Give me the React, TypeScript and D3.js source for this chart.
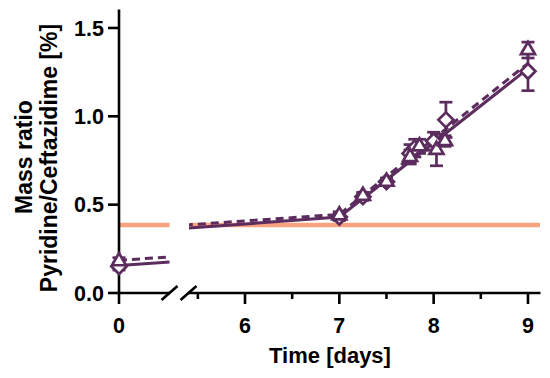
import React, { useEffect, useRef } from 'react';
import * as d3 from 'd3';

// triangles (dashed fit) and diamonds (solid fit)
const triTimes = [0, 7, 7.25, 7.5, 7.75, 7.85, 8.03, 8.12, 9];
const triValues = [0.18, 0.44, 0.55, 0.63, 0.77, 0.83, 0.81, 0.86, 1.375];
const triErrors = [0.02, 0.02, 0.02, 0.02, 0.04, 0.04, 0.09, 0.03, 0.045];

const diaTimes = [0, 7, 7.25, 7.5, 7.75, 7.8, 8.0, 8.13, 9];
const diaValues = [0.15, 0.43, 0.545, 0.63, 0.79, 0.82, 0.86, 0.98, 1.255];
const diaErrors = [0.02, 0.02, 0.02, 0.02, 0.05, 0.05, 0.05, 0.1, 0.11];

// segmental linear fits
const fitTimes = [0, 7, 9];
const solidFit = [0.155, 0.43, 1.27];
const dashedFit = [0.185, 0.445, 1.3];

const threshold = 0.385;

const yTicks = [0, 0.5, 1.0, 1.5];
const xTicksLeft = [0];
const xTicksRight = [6, 7, 8, 9];
const xMinorRight = [5.5, 6.5, 7.5, 8.5];

const purple = '#5b2c5d';
const orange = '#f8a27f';
const font = 'Liberation Sans, Arial, Helvetica, sans-serif';

const W = 550;
const H = 378;

export default function App() {
  const ref = useRef<SVGSVGElement>(null);

  useEffect(() => {
    if (!ref.current) return;
    const svg = d3.select(ref.current);
    svg.selectAll('*').remove();

    const y = d3.scaleLinear().domain([0, 1.6]).range([293, 10.3]);
    const xL = d3.scaleLinear().domain([0, 0.5]).range([119, 168]);
    const xR = d3.scaleLinear().domain([5.42, 9.12]).range([190.3, 539.3]);
    const segEndL = 169.5;
    const segStartR = 189;

    const defs = svg.append('defs');
    defs.append('clipPath').attr('id', 'clipL')
      .append('rect').attr('x', 0).attr('y', 0).attr('width', segEndL).attr('height', H);
    defs.append('clipPath').attr('id', 'clipR')
      .append('rect').attr('x', segStartR).attr('y', 0).attr('width', W - segStartR).attr('height', H);

    const segments = [
      { x: xL, clip: 'url(#clipL)', x0: 119, x1: segEndL, pick: (t: number) => t <= 0.5 },
      { x: xR, clip: 'url(#clipR)', x0: segStartR + 1, x1: 540, pick: (t: number) => t > 0.5 },
    ];

    // threshold line
    segments.forEach(s => {
      svg.append('line')
        .attr('x1', s.x0).attr('x2', s.x1)
        .attr('y1', y(threshold)).attr('y2', y(threshold))
        .attr('stroke', orange).attr('stroke-width', 4.5);
    });

    // axes
    const axis = svg.append('g').attr('stroke', '#000').attr('stroke-width', 2.6).attr('fill', 'none');
    axis.append('line').attr('x1', 119).attr('x2', 119).attr('y1', 9.5).attr('y2', 294.2);
    axis.append('line').attr('x1', 117.8).attr('x2', 170).attr('y1', 293).attr('y2', 293);
    axis.append('line').attr('x1', 188).attr('x2', 540.5).attr('y1', 293).attr('y2', 293);
    // break marks
    [169.5, 188.5].forEach(cx => {
      axis.append('line')
        .attr('x1', cx - 8).attr('y1', 300).attr('x2', cx + 8).attr('y2', 286);
    });
    yTicks.forEach(v => {
      axis.append('line').attr('x1', 108).attr('x2', 119).attr('y1', y(v)).attr('y2', y(v));
    });
    xTicksLeft.forEach(v => {
      axis.append('line').attr('x1', xL(v)).attr('x2', xL(v)).attr('y1', 293).attr('y2', 304);
    });
    xTicksRight.forEach(v => {
      axis.append('line').attr('x1', xR(v)).attr('x2', xR(v)).attr('y1', 293).attr('y2', 304);
    });
    xMinorRight.forEach(v => {
      axis.append('line').attr('x1', xR(v)).attr('x2', xR(v)).attr('y1', 293).attr('y2', 299);
    });

    const labels = svg.append('g')
      .attr('font-family', font).attr('font-weight', 'bold').attr('fill', '#000');
    yTicks.forEach(v => {
      labels.append('text')
        .attr('x', 104).attr('y', y(v)).attr('dy', '0.36em')
        .attr('text-anchor', 'end').attr('font-size', 21.5)
        .text(d3.format('.1f')(v));
    });
    xTicksLeft.forEach(v => {
      labels.append('text').attr('x', xL(v)).attr('y', 333)
        .attr('text-anchor', 'middle').attr('font-size', 21.5).text(v);
    });
    xTicksRight.forEach(v => {
      labels.append('text').attr('x', xR(v)).attr('y', 333)
        .attr('text-anchor', 'middle').attr('font-size', 21.5).text(v);
    });
    labels.append('text').attr('x', 330).attr('y', 363)
      .attr('text-anchor', 'middle').attr('font-size', 22).text('Time [days]');
    labels.append('text')
      .attr('transform', 'translate(32,157) rotate(-90)')
      .attr('text-anchor', 'middle').attr('font-size', 23).text('Mass ratio');
    labels.append('text')
      .attr('transform', 'translate(57,158) rotate(-90)')
      .attr('text-anchor', 'middle').attr('font-size', 23).text('Pyridine/Ceftazidime [%]');

    // fit lines
    const fits = [
      { values: solidFit, dash: null },
      { values: dashedFit, dash: '8,5' },
    ];
    segments.forEach(s => {
      const line = d3.line<number>()
        .x((_, i) => s.x(fitTimes[i]))
        .y(d => y(d));
      fits.forEach(f => {
        svg.append('path')
          .attr('d', line(f.values) ?? '')
          .attr('clip-path', s.clip)
          .attr('fill', 'none')
          .attr('stroke', purple)
          .attr('stroke-width', 3)
          .attr('stroke-dasharray', f.dash);
      });
    });

    const triPath = (cx: number, cy: number) => {
      const s = 14;
      const h = s * Math.sqrt(3) / 2;
      return `M${cx},${cy - h * 2 / 3}L${cx + s / 2},${cy + h / 3}L${cx - s / 2},${cy + h / 3}Z`;
    };
    const diaPath = (cx: number, cy: number) => {
      const r = 7.5;
      return `M${cx},${cy - r}L${cx + r},${cy}L${cx},${cy + r}L${cx - r},${cy}Z`;
    };

    const series = [
      { times: diaTimes, values: diaValues, errors: diaErrors, shape: diaPath },
      { times: triTimes, values: triValues, errors: triErrors, shape: triPath },
    ];

    // error bars
    series.forEach(se => {
      se.times.forEach((t, i) => {
        const s = segments.find(sg => sg.pick(t))!;
        const cx = s.x(t);
        const lo = y(se.values[i] - se.errors[i]);
        const hi = y(se.values[i] + se.errors[i]);
        const g = svg.append('g').attr('stroke', purple).attr('stroke-width', 2.7);
        g.append('line').attr('x1', cx).attr('x2', cx).attr('y1', lo).attr('y2', hi);
        g.append('line').attr('x1', cx - 6.5).attr('x2', cx + 6.5).attr('y1', lo).attr('y2', lo);
        g.append('line').attr('x1', cx - 6.5).attr('x2', cx + 6.5).attr('y1', hi).attr('y2', hi);
      });
    });

    // markers
    series.forEach(se => {
      se.times.forEach((t, i) => {
        const s = segments.find(sg => sg.pick(t))!;
        svg.append('path')
          .attr('d', se.shape(s.x(t), y(se.values[i])))
          .attr('fill', '#fff')
          .attr('stroke', purple)
          .attr('stroke-width', 2.7)
          .attr('stroke-linejoin', 'miter');
      });
    });
  }, []);

  return (
    <svg
      ref={ref}
      width={W}
      height={H}
      style={{ position: 'absolute', left: 0, top: 0, background: '#fff' }}
    />
  );
}
